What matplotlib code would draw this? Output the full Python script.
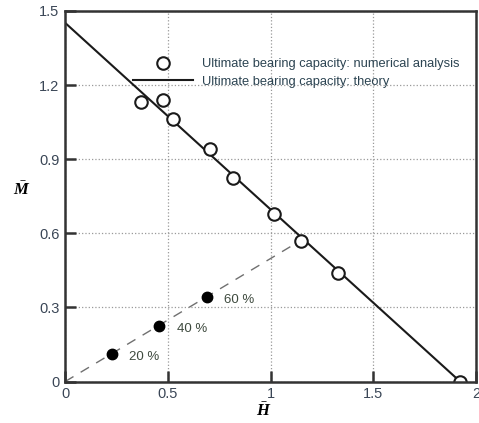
import matplotlib
matplotlib.use("Agg")
import matplotlib.pyplot as plt

plt.rcParams['font.family'] = ['Liberation Sans', 'DejaVu Sans']
plt.rcParams['mathtext.fontset'] = 'custom'
plt.rcParams['mathtext.bf'] = 'Liberation Serif:bold:italic'
plt.rcParams['mathtext.rm'] = 'Liberation Serif'

# numerical analysis results (open circles)
num_H = [0.367, 0.477, 0.526, 0.707, 0.817, 1.015, 1.146, 1.327, 1.922]
num_M = [1.132, 1.141, 1.063, 0.941, 0.822, 0.678, 0.570, 0.439, 0.0]

# theory line
theory_H = [0.0, 1.922]
theory_M = [1.452, 0.0]

# loading path (dashed) and load levels
path_H = [0.0, 1.10]
path_M = [0.0, 0.548]
load_H = [0.227, 0.458, 0.688]
load_M = [0.110, 0.226, 0.344]
load_labels = ['20 %', '40 %', '60 %']

xticks = [0, 0.5, 1, 1.5, 2]
xlabels = ['0', '0.5', '1', '1.5', '2']
yticks = [0, 0.3, 0.6, 0.9, 1.2, 1.5]
ylabels = ['0', '0.3', '0.6', '0.9', '1.2', '1.5']

fig = plt.figure(figsize=(4.79, 4.23), dpi=100)
ax = fig.add_axes([0.136, 0.098, 0.858, 0.876])

ax.plot(theory_H, theory_M, '-', color='#1a1a1a', lw=1.5,
        label='Ultimate bearing capacity: theory')
ax.plot(num_H, num_M, 'o', ms=9, mfc='white', mec='#1a1a1a', mew=1.5,
        label='Ultimate bearing capacity: numerical analysis')
ax.plot(path_H, path_M, '--', color='#707070', lw=1.0, dashes=(7, 6))
ax.plot(load_H, load_M, 'o', ms=7.5, color='black')
for h, m, t in zip(load_H, load_M, load_labels):
    ax.text(h + 0.085, m - 0.012, t, fontsize=9.5, color='#3e4a3e', va='center')

ax.set_xlim(0, 2)
ax.set_ylim(0, 1.5)
ax.set_xticks(xticks)
ax.set_xticklabels(xlabels)
ax.set_yticks(yticks)
ax.set_yticklabels(ylabels)
ax.tick_params(direction='in', length=8, width=1.8, labelsize=10.5,
               labelcolor='#3a4656', color='#333333', pad=4)
ax.grid(True, linestyle=':', color='#999999', lw=0.9)
for s in ax.spines.values():
    s.set_linewidth(1.8)
    s.set_color('#333333')

ax.set_xlabel(r'$\bar{\mathbf{H}}$', fontsize=12, va='center')
ax.xaxis.set_label_coords(0.483, -0.076)
ax.set_ylabel(r'$\bar{\mathbf{M}}$', fontsize=12, rotation=0, va='center')
ax.yaxis.set_label_coords(-0.105, 0.52)

handles, labels = ax.get_legend_handles_labels()
ax.legend(handles[::-1], labels[::-1], loc='upper left',
          bbox_to_anchor=(0.165, 0.872), frameon=False, fontsize=9.3,
          handlelength=4.65, handletextpad=0.7, labelspacing=0.4,
          borderpad=0, borderaxespad=0, labelcolor='#2c4452')

fig.savefig('out.png', dpi=100)
